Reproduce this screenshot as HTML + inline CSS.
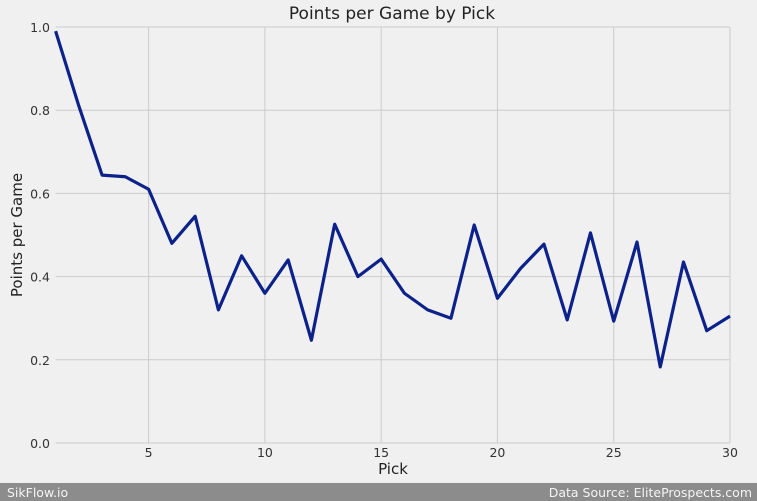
<!DOCTYPE html>
<html><head><meta charset="utf-8"><style>
html,body{margin:0;padding:0;background:#f0f0f0;}
svg{display:block;font-family:"DejaVu Sans","Liberation Sans",sans-serif;}
</style></head><body>
<svg id="chart" width="757" height="501" viewBox="0 0 757 501">
<rect x="0" y="0" width="757" height="501" fill="#f0f0f0"/>
<g id="grid"></g>
<g id="ticks"></g>
<path id="line" fill="none" stroke="#0c228a" stroke-width="3.2" stroke-linejoin="round"/>
<text x="392" y="19" font-size="17" text-anchor="middle" fill="#222">Points per Game by Pick</text>
<text x="393" y="474" font-size="15" text-anchor="middle" fill="#222">Pick</text>
<text transform="translate(22,235) rotate(-90)" font-size="15" text-anchor="middle" fill="#222">Points per Game</text>
<rect x="0" y="483" width="757" height="18" fill="#8c8c8c"/>
<text x="7" y="497" font-size="12.5" fill="#f4f4f4">SikFlow.io</text>
<text x="752" y="497" font-size="12.5" fill="#f4f4f4" text-anchor="end">Data Source: EliteProspects.com</text>
</svg>
<script>
const picks = [1,2,3,4,5,6,7,8,9,10,11,12,13,14,15,16,17,18,19,20,21,22,23,24,25,26,27,28,29,30];
const ppg = [0.99,0.81,0.644,0.64,0.61,0.48,0.545,0.32,0.45,0.36,0.44,0.247,0.526,0.40,0.442,0.36,0.32,0.30,0.524,0.348,0.42,0.478,0.296,0.505,0.293,0.483,0.183,0.435,0.27,0.305];
const xTicks = [5,10,15,20,25,30];
const yTicks = [0.0,0.2,0.4,0.6,0.8,1.0];
const NS="http://www.w3.org/2000/svg";
const x = v => 55.6 + (v-1)*(730-55.6)/29;
const y = v => 443 - v*416;
const grid=document.getElementById('grid'), ticks=document.getElementById('ticks');
yTicks.forEach(t=>{
  const l=document.createElementNS(NS,'line');
  l.setAttribute('x1',55.6);l.setAttribute('x2',730);l.setAttribute('y1',y(t));l.setAttribute('y2',y(t));
  l.setAttribute('stroke','#cbcbcb');l.setAttribute('stroke-width','1');
  
  
  grid.appendChild(l);
  const tx=document.createElementNS(NS,'text');
  tx.setAttribute('x',50);tx.setAttribute('y',y(t)+5);tx.setAttribute('text-anchor','end');
  tx.setAttribute('font-size','12.5');tx.setAttribute('fill','#333');tx.textContent=t.toFixed(1);
  
  
  ticks.appendChild(tx);
});
xTicks.forEach(t=>{
  const l=document.createElementNS(NS,'line');
  l.setAttribute('x1',x(t));l.setAttribute('x2',x(t));l.setAttribute('y1',27);l.setAttribute('y2',443);
  l.setAttribute('stroke','#cbcbcb');l.setAttribute('stroke-width','1');
  
  
  grid.appendChild(l);
  const tx=document.createElementNS(NS,'text');
  tx.setAttribute('x',x(t));tx.setAttribute('y',457);tx.setAttribute('text-anchor','middle');
  tx.setAttribute('font-size','12.5');tx.setAttribute('fill','#333');tx.textContent=t;
  
  
  ticks.appendChild(tx);
});
document.getElementById('line').setAttribute('d', picks.map((p,i)=>(i?'L':'M')+x(p)+','+y(ppg[i])).join(' '));
</script>
</body></html>
